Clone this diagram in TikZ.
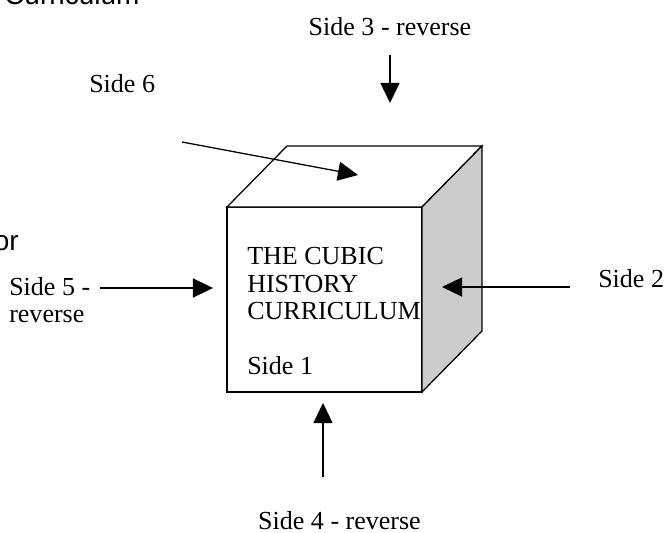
\documentclass[tikz,border=0pt]{standalone}
\usepackage{fontspec}
\setmainfont{Liberation Serif}
\newfontfamily\pagefont{Liberation Sans}
\usepackage{tikz}
\usetikzlibrary{arrows.meta,positioning}
\definecolor{SideGray}{HTML}{CCCCCC}

\begin{document}
\begin{tikzpicture}[
  x=0.025cm, y=-0.025cm,
  lbl/.style={inner sep=0pt, align=left, font=\fontsize{18.5}{19.6}\selectfont},
  face/.style={draw, line width=0.9pt, line join=miter},
  arr/.style={-{Triangle[length=0.5cm, width=0.475cm]}, line width=0.9pt}
]
  \path[use as bounding box] (0,0) rectangle (667,533);
  \clip (0,0) rectangle (667,533);

  \coordinate (fnw) at (227,207);
  \coordinate (fne) at (422,207);
  \coordinate (fse) at (422,392);
  \coordinate (fsw) at (227,392);
  \coordinate (bnw) at (287,146);
  \coordinate (bne) at (482,146);
  \coordinate (bse) at (482,331);

  \draw[face, fill=white] (fnw) -- (fne) -- (fse) -- (fsw) -- cycle;
  \draw[face, fill=white] (fnw) -- (bnw) -- (bne) -- (fne) -- cycle;
  \draw[face, fill=SideGray] (fne) -- (bne) -- (bse) -- (fse) -- cycle;

  \node[lbl, anchor=north west] (title) at (247,247)
    {THE CUBIC\\HISTORY\\CURRICULUM\\[\baselineskip]Side 1};

  \node[inner sep=0pt, anchor=base west, font=\pagefont\fontsize{19.9}{22}\selectfont]
    (head) at (4,4) {Curriculum};
  \node[inner sep=0pt, anchor=base east, font=\pagefont\fontsize{19.9}{22}\selectfont]
    (frag) at (19,250) {or};

  \node[lbl, anchor=base] (side3) at (390,35) {Side 3 - reverse};
  \node[lbl, anchor=base west] (side6) at (89,92) {Side 6};
  \node[lbl, anchor=north west] (side5) at (9,277) {Side 5 -\\reverse};
  \node[lbl, anchor=base west] (side2) at (598,287) {Side 2};
  \node[lbl, anchor=base] (side4) at (339.5,529.5) {Side 4 - reverse};

  \coordinate (s3a) at (390,55);   \coordinate (s3b) at (390,103);
  \coordinate (s6a) at (182,142);  \coordinate (s6b) at (358,175);
  \coordinate (s5a) at (100,288);  \coordinate (s5b) at (213,288);
  \coordinate (s2a) at (570,287);  \coordinate (s2b) at (442,287);
  \coordinate (s4a) at (323,477);  \coordinate (s4b) at (323,403);

  \draw[arr] (s3a) -- (s3b);
  \draw[arr] (s6a) -- (s6b);
  \draw[arr] (s5a) -- (s5b);
  \draw[arr] (s2a) -- (s2b);
  \draw[arr] (s4a) -- (s4b);
\end{tikzpicture}
\end{document}
